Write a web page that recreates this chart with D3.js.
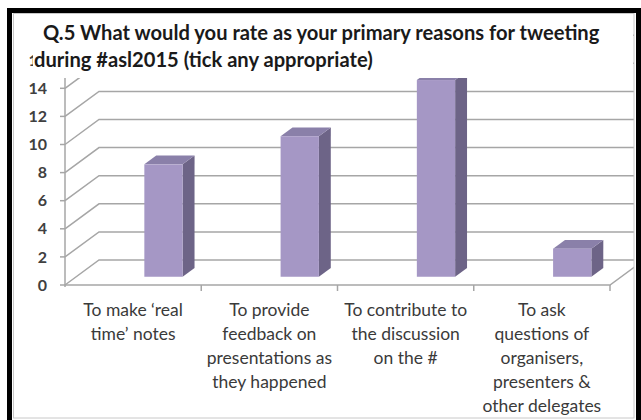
<!DOCTYPE html>
<html>
<head>
<meta charset="utf-8">
<script src="https://cdn.jsdelivr.net/npm/d3@7/dist/d3.min.js"></script>
<style>
  html, body { margin: 0; padding: 0; background: #fff; }
  svg { display: block; }
</style>
</head>
<body>
<script>
// ---- data ----
const titleLines = ["Q.5 What would you rate as your primary reasons for tweeting",
                    "during #asl2015 (tick any appropriate)"];
const categories = [
  ["To make \u2018real", "time\u2019 notes"],
  ["To provide", "feedback on", "presentations as", "they happened"],
  ["To contribute to", "the discussion", "on the #"],
  ["To ask", "questions of", "organisers,", "presenters &", "other delegates"]
];
const values = [8, 10, 14, 2];
const yTicks = [0, 2, 4, 6, 8, 10, 12, 14, 16];

// ---- layout ----
const W = 641, H = 420;
const DX = 34, DY = 25;          // depth projection
const T0 = 0.33, T1 = 0.68;      // bar depth span
const gridColor = "#a6a6a6";

const svg = d3.select("body").append("svg").attr("width", W).attr("height", H);
svg.append("rect").attr("width", W).attr("height", H).attr("fill", "#fff");

const x = d3.scaleBand().domain(d3.range(categories.length)).range([65, 610]);
const y = d3.scaleLinear().domain([0, 16]).range([285, 60.2]);
const bw = x.bandwidth();

const P = (xf, v, t) => [xf + t * DX, y(v) - t * DY];

const clip = svg.append("defs").append("clipPath").attr("id", "plotclip");
clip.append("rect").attr("x", 0).attr("y", 0).attr("width", 634).attr("height", H);

const g = svg.append("g").attr("clip-path", "url(#plotclip)");
const x0 = x.range()[0], x1 = x.range()[1];

// side wall diagonals + back wall gridlines
yTicks.forEach(v => {
  const a = P(x0, v, 0), b = P(x0, v, 1), c = P(x1 + 60, v, 1);
  g.append("polyline")
    .attr("points", [a, b, c].map(p => p.join(",")).join(" "))
    .attr("fill", "none").attr("stroke", gridColor).attr("stroke-width", 1.5);
  g.append("line").attr("x1", x0 - 5).attr("x2", x0).attr("y1", y(v)).attr("y2", y(v))
    .attr("stroke", gridColor).attr("stroke-width", 1.5);
});
// vertical front axis
g.append("line").attr("x1", x0).attr("x2", x0).attr("y1", y(0) + 2).attr("y2", y(16))
  .attr("stroke", gridColor).attr("stroke-width", 1.5);
// floor front + right edge
{
  const a = P(x0, 0, 0), b = P(x1, 0, 0), c = P(x1, 0, 1);
  g.append("polyline").attr("points", [a, b, c].map(p => p.join(",")).join(" "))
    .attr("fill", "none").attr("stroke", gridColor).attr("stroke-width", 1.5);
}
// category ticks
d3.range(1, categories.length + 1).forEach(i => {
  const xx = x0 + i * bw;
  g.append("line").attr("x1", xx).attr("x2", xx).attr("y1", y(0)).attr("y2", y(0) + 6)
    .attr("stroke", gridColor).attr("stroke-width", 1.5);
});

// bars
const barW = bw * 0.281;
values.forEach((v, i) => {
  const xa = x(i) + bw / 2, xb = xa + barW;
  const poly = pts => pts.map(p => p.join(",")).join(" ");
  g.append("polygon").attr("points", poly([P(xb, 0, T0), P(xb, 0, T1), P(xb, v, T1), P(xb, v, T0)]))
    .attr("fill", "#6d6487");
  g.append("polygon").attr("points", poly([P(xa, v, T0), P(xb, v, T0), P(xb, v, T1), P(xa, v, T1)]))
    .attr("fill", "#8a80a9");
  const f0 = P(xa, v, T0), f1 = P(xb, 0, T0);
  g.append("rect").attr("x", f0[0]).attr("y", f0[1]).attr("width", f1[0] - f0[0]).attr("height", f1[1] - f0[1])
    .attr("fill", "#a597c5");
});

// y tick labels
svg.append("g").selectAll("text").data(yTicks).join("text")
  .attr("x", 47).attr("y", d => y(d)).attr("dy", "0.35em")
  .attr("text-anchor", "end")
  .attr("font-family", "Lato, 'Open Sans', sans-serif").attr("font-weight", "bold")
  .attr("font-size", 16).attr("fill", "#404040")
  .text(d => d);

// category labels
categories.forEach((lines, i) => {
  const cx = x(i) + bw / 2;
  svg.append("text")
    .attr("text-anchor", "middle")
    .attr("font-family", "Lato, 'Open Sans', sans-serif")
    .attr("font-size", 17.5).attr("fill", "#3a3a3a")
    .selectAll("tspan").data(lines).join("tspan")
    .attr("x", cx).attr("y", (d, k) => 310 + k * 24).attr("dy", "0.35em")
    .text(d => d);
});

// title box (white background overlays the chart)
svg.append("rect").attr("x", 33).attr("y", 14).attr("width", 600).attr("height", 64).attr("fill", "#fff");
const tt = svg.append("text")
  .attr("font-family", "Lato, 'Open Sans', sans-serif").attr("font-weight", "bold")
  .attr("font-size", 20.15).attr("fill", "#1a1a1a");
tt.append("tspan").attr("x", 43).attr("y", 40).text(titleLines[0]);
tt.append("tspan").attr("x", 34).attr("y", 66.5).text(titleLines[1]);

// chart area border and outer frame
svg.append("rect").attr("x", 13.5).attr("y", 13.5).attr("width", 620.5).attr("height", 404.5)
  .attr("fill", "none").attr("stroke", "#c8c8c8").attr("stroke-width", 1);
svg.append("path").attr("d", `M9.5,${H + 10} V10.5 H638.5 V${H + 10}`)
  .attr("fill", "none").attr("stroke", "#000").attr("stroke-width", 5);
</script>
</body>
</html>
